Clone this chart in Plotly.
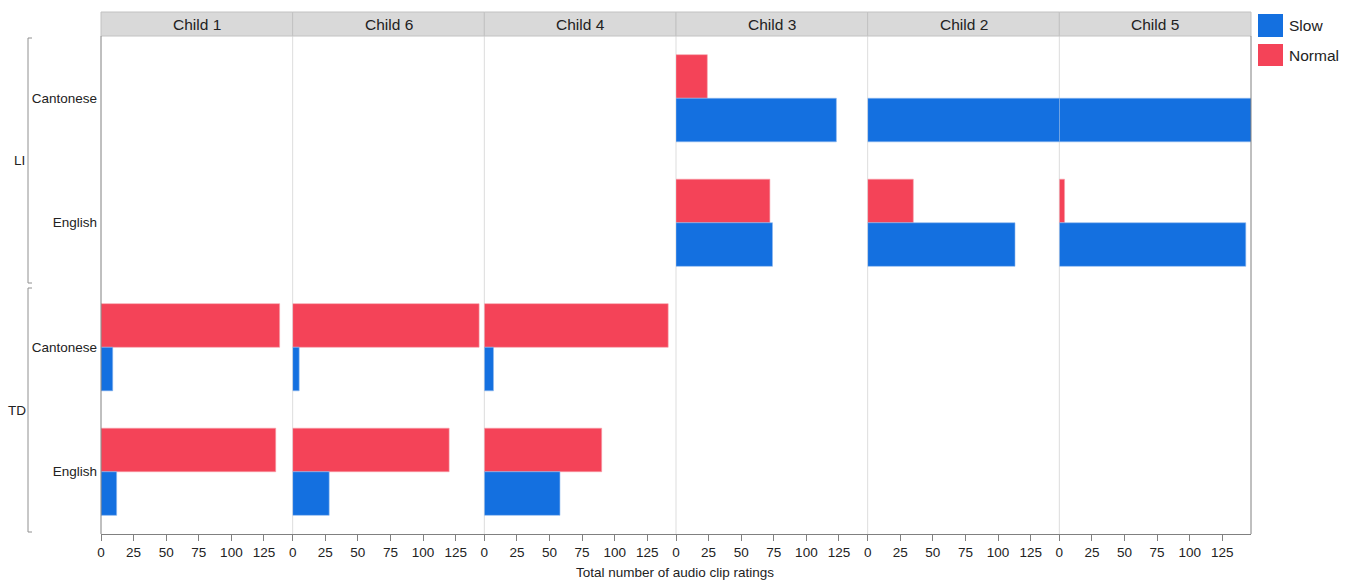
import plotly.graph_objects as go
from plotly.subplots import make_subplots

children = ["Child 1", "Child 6", "Child 4", "Child 3", "Child 2", "Child 5"]
categories = ["LI|Cantonese", "LI|English", "TD|Cantonese", "TD|English"]
category_labels = ["Cantonese", "English", "Cantonese", "English"]
groups = ["LI", "TD"]
normal = {
    "Child 1": [None, None, 137, 134],
    "Child 6": [None, None, 143, 120],
    "Child 4": [None, None, 141, 90],
    "Child 3": [24, 72, None, None],
    "Child 2": [None, 35, None, None],
    "Child 5": [None, 4, None, None],
}
slow = {
    "Child 1": [None, None, 9, 12],
    "Child 6": [None, None, 5, 28],
    "Child 4": [None, None, 7, 58],
    "Child 3": [123, 74, None, None],
    "Child 2": [150, 113, None, None],
    "Child 5": [150, 143, None, None],
}
x_ticks = [0, 25, 50, 75, 100, 125]
x_max = 147

BLUE = "#1470E0"
RED = "#F44358"
FONT = "Liberation Sans, Arial, sans-serif"

# plot area in pixels
PL, PR, PT, PB = 101, 1251, 36, 534
W, H = 1355, 580


def px_x(px):
    return (px - PL) / (PR - PL)


def px_y(py):
    return (PB - py) / (PB - PT)


fig = make_subplots(rows=1, cols=6, shared_yaxes=True, horizontal_spacing=0)

for i, ch in enumerate(children):
    col = i + 1
    fig.add_trace(go.Bar(
        y=categories, x=normal[ch], orientation="h", name="Normal",
        marker=dict(color=RED, line=dict(color="#F7A0AA", width=0.6)),
        showlegend=False, hoverinfo="x+y"), row=1, col=col)
    fig.add_trace(go.Bar(
        y=categories, x=slow[ch], orientation="h", name="Slow",
        marker=dict(color=BLUE, line=dict(color="#8FB8EE", width=0.6)),
        showlegend=False, hoverinfo="x+y"), row=1, col=col)
    fig.update_xaxes(
        row=1, col=col, range=[0, x_max], tickvals=x_ticks,
        ticktext=[str(t) for t in x_ticks],
        showgrid=False, zeroline=False, showline=True, linecolor="#808080",
        linewidth=1, ticks="outside", ticklen=6, tickcolor="#808080",
        tickfont=dict(family=FONT, size=13.5, color="#222"),
    )

fig.update_yaxes(
    categoryorder="array", categoryarray=categories, autorange="reversed",
    tickvals=categories, ticktext=category_labels, showgrid=False,
    zeroline=False, ticks="", showline=False,
    tickfont=dict(family=FONT, size=13.5, color="#222"),
)
fig.update_yaxes(row=1, col=1, ticklabelstandoff=3)

shapes = []
annotations = []
n = len(children)
strip_top = px_y(12)
for i, ch in enumerate(children):
    x0, x1 = i / n, (i + 1) / n
    shapes.append(dict(type="rect", xref="paper", yref="paper", x0=x0, x1=x1,
                       y0=1, y1=strip_top, fillcolor="#D9D9D9",
                       line=dict(color="#C2C2C2", width=1), layer="above"))
    annotations.append(dict(text=ch, xref="paper", yref="paper",
                            x=(x0 + x1) / 2, y=(1 + strip_top) / 2,
                            showarrow=False, xanchor="center", yanchor="middle",
                            font=dict(family=FONT, size=15.5, color="#222")))
    if i > 0:
        shapes.append(dict(type="line", xref="paper", yref="paper", x0=x0, x1=x0,
                           y0=0, y1=1, line=dict(color="#DDDDDD", width=1),
                           layer="below"))

# outer left/right lines
for xv in (0, 1):
    shapes.append(dict(type="line", xref="paper", yref="paper", x0=xv, x1=xv,
                       y0=0, y1=1, line=dict(color="#808080", width=1)))

# group brackets
bx = px_x(28)
bx2 = px_x(32)
for g, (top, bot, ly, lx) in zip(groups, [(38, 283, 160, 19), (288, 532, 410, 17)]):
    shapes.append(dict(type="path", xref="paper", yref="paper",
                       path=f"M {bx2},{px_y(top)} L {bx},{px_y(top)} L {bx},{px_y(bot)} L {bx2},{px_y(bot)}",
                       line=dict(color="#909090", width=1)))
    annotations.append(dict(text=g, xref="paper", yref="paper", x=px_x(lx), y=px_y(ly),
                            showarrow=False, xanchor="center", yanchor="middle",
                            font=dict(family=FONT, size=13.5, color="#222")))

# x axis title
annotations.append(dict(text="Total number of audio clip ratings", xref="paper", yref="paper",
                        x=px_x(675), y=px_y(572), showarrow=False, xanchor="center",
                        yanchor="middle", font=dict(family=FONT, size=13.5, color="#222")))

# custom legend
for name, color, y0, y1 in [("Slow", BLUE, 14, 37), ("Normal", RED, 44, 66)]:
    shapes.append(dict(type="rect", xref="paper", yref="paper", x0=px_x(1258), x1=px_x(1283),
                       y0=px_y(y1), y1=px_y(y0), fillcolor=color, line=dict(width=0)))
    annotations.append(dict(text=name, xref="paper", yref="paper", x=px_x(1287),
                            y=px_y((y0 + y1) / 2), showarrow=False, xanchor="left",
                            yanchor="middle", font=dict(family=FONT, size=15.5, color="#222")))

fig.update_layout(
    width=W, height=H, barmode="group", bargap=0.3, bargroupgap=0,
    margin=dict(l=PL, r=W - PR, t=PT, b=H - PB),
    plot_bgcolor="white", paper_bgcolor="white",
    shapes=shapes, annotations=annotations, showlegend=False,
    font=dict(family=FONT),
)

fig.write_html("out.html", config={"displayModeBar": False},
               post_script="document.body.style.margin='0px';document.body.style.padding='0px';")
